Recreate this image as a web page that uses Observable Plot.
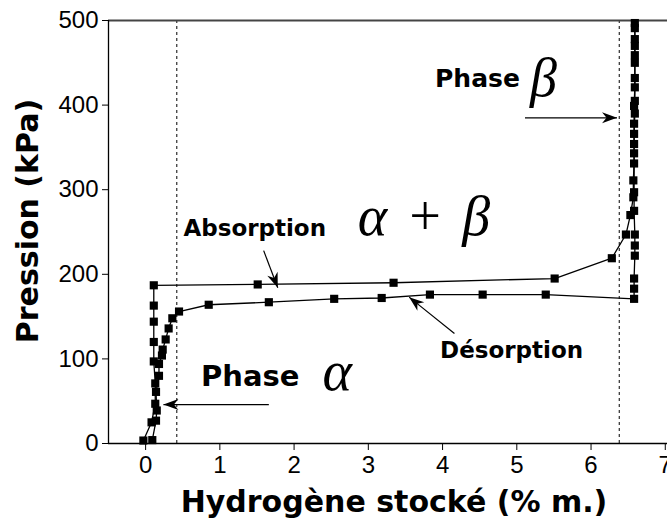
<!DOCTYPE html>
<html><head><meta charset="utf-8">
<script src="https://cdn.jsdelivr.net/npm/d3@7"></script>
<script src="https://cdn.jsdelivr.net/npm/@observablehq/plot@0.6"></script>
<style>body{margin:0;background:#fff}</style>
</head><body><div id="chart"></div>
<script>
// Absorption curve (x: % m., p: kPa), in measurement order
const absX = [-0.03, 0.08, 0.13, 0.13, 0.11, 0.11, 0.11, 0.11, 0.11, 1.51, 3.34, 5.51, 6.28, 6.47, 6.53, 6.57, 6.57, 6.58, 6.58, 6.58, 6.58, 6.59, 6.59, 6.59, 6.59];
const absP = [3.5, 25, 47, 71, 97, 120, 144, 163, 187, 188, 190, 195, 219, 247, 270, 291, 311, 331, 354, 378, 399, 421, 450, 478, 497];
// Desorption curve
const desX = [6.59, 6.59, 6.59, 6.59, 6.59, 6.59, 6.58, 6.58, 6.58, 6.58, 6.59, 6.59, 6.59, 6.58, 6.58, 6.58, 5.39, 4.54, 3.83, 3.18, 2.54, 1.66, 0.85, 0.45, 0.36, 0.31, 0.27, 0.23, 0.22, 0.18, 0.18, 0.14, 0.15, 0.14, 0.09];
const desP = [491, 470, 459, 432, 405, 390, 366, 343, 297, 275, 247, 234, 222, 195, 183, 171, 176, 176, 176, 172, 171, 167, 164, 156, 148, 136, 123, 111, 104, 94, 80, 61, 39, 27, 4];
const xTicks = [0, 1, 2, 3, 4, 5, 6, 7];
const yTicks = [0, 100, 200, 300, 400, 500];
const phaseLimits = [0.42, 6.38];
const xTitle = "Hydrogène stocké (% m.)";
const yTitle = "Pression (kPa)";
const labelTexts = ["Phase", "Absorption", "Désorption", "Phase"];
const labelX = [4.47, 1.47, 4.93, 1.41];
const labelP = [431, 254, 110, 79];
const labelSize = [25, 23, 23, 29];
const greekTexts = ["β", "α\u2004+\u2004β", "α"];
const greekX = [5.36, 3.75, 2.58];
const greekP = [431, 268, 84];
const greekSize = [54, 56, 56];
// arrows: start -> head
const arrX1 = [5.11, 1.59, 4.16, 1.66];
const arrP1 = [385, 228, 130, 46];
const arrX2 = [6.35, 1.78, 3.55, 0.24];
const arrP2 = [385, 184, 173, 46];

const W = 667, H = 518, mL = 108, mR = 0, mT = 20, mB = 75;
const xDom = [-0.5, 7.03], yDom = [0, 500];

const absorption = absX.map((x, i) => ({x, p: absP[i]}));
const desorption = desX.map((x, i) => ({x, p: desP[i]}));
const labels = labelTexts.map((t, i) => ({t, x: labelX[i], p: labelP[i], s: labelSize[i]}));
const greek = greekTexts.map((t, i) => ({t, x: greekX[i], p: greekP[i], s: greekSize[i]}));

const sx = d3.scaleLinear(xDom, [mL, W - mR]);
const sy = d3.scaleLinear(yDom, [H - mB, mT]);
const arrows = arrX1.map((x1, i) => {
  const dx = sx(arrX2[i]) - sx(x1), dy = sy(arrP2[i]) - sy(arrP1[i]);
  return {x1, y1: arrP1[i], x2: arrX2[i], y2: arrP2[i], angle: Math.atan2(dy, dx) * 180 / Math.PI};
});
const headSymbol = {
  draw(ctx, size) {
    const L = 15, Wd = 5.5, n = 4.5;
    ctx.moveTo(0, 0);
    ctx.lineTo(-L, -Wd);
    ctx.lineTo(-L + n, 0);
    ctx.lineTo(-L, Wd);
    ctx.closePath();
  }
};

const bold = "DejaVu Sans";
const chart = Plot.plot({
  width: W, height: H,
  marginLeft: mL, marginRight: mR, marginTop: mT, marginBottom: mB,
  style: {fontFamily: "Liberation Sans, Arial, sans-serif", fontSize: "24px", background: "#fff", color: "#000", overflow: "visible"},
  x: {domain: xDom, ticks: xTicks, tickSize: 7, tickPadding: 5, tickFormat: d3.format("d"), label: null},
  y: {domain: yDom, ticks: yTicks, tickSize: 6, tickPadding: 4, tickFormat: d3.format("d"), label: null},
  marks: [
    Plot.ruleX(phaseLimits, {stroke: "#000", strokeWidth: 1, strokeDasharray: "3,3"}),
    Plot.ruleY([yDom[1]], {stroke: "#444", strokeWidth: 2}),
    Plot.ruleY([yDom[0]], {stroke: "#000", strokeWidth: 1.3}),
    Plot.ruleX([xDom[0]], {stroke: "#000", strokeWidth: 1.3}),
    Plot.line(absorption, {x: "x", y: "p", stroke: "#000", strokeWidth: 1.3}),
    Plot.line(desorption, {x: "x", y: "p", stroke: "#000", strokeWidth: 1.3}),
    Plot.dot(absorption, {x: "x", y: "p", symbol: "square", r: 4.6, fill: "#000", stroke: "none"}),
    Plot.dot(desorption, {x: "x", y: "p", symbol: "square", r: 4.6, fill: "#000", stroke: "none"}),
    Plot.link(arrows, {x1: "x1", y1: "y1", x2: "x2", y2: "y2", stroke: "#000", strokeWidth: 1.2}),
    Plot.dot(arrows, {x: "x2", y: "y2", symbol: headSymbol, rotate: "angle", fill: "#000", stroke: "none", r: 5}),
    Plot.text(labels, {x: "x", y: "p", text: "t", fontFamily: bold, fontWeight: "bold", fontSize: "s", fill: "#000"}),
    Plot.text(greek, {x: "x", y: "p", text: "t", fontFamily: "Liberation Serif", fontStyle: "italic", fontSize: "s", fill: "#000"}),
    Plot.text([xTitle], {frameAnchor: "bottom", textAnchor: "middle", lineAnchor: "middle", dx: 6, dy: 59, text: (d) => d, fontFamily: bold, fontWeight: "bold", fontSize: 30, fill: "#000"}),
    Plot.text([yTitle], {frameAnchor: "left", textAnchor: "middle", lineAnchor: "middle", dx: -80, dy: -11, rotate: -90, text: (d) => d, fontFamily: bold, fontWeight: "bold", fontSize: 30, fill: "#000"})
  ]
});
document.getElementById("chart").appendChild(chart);
</script>
</body></html>
